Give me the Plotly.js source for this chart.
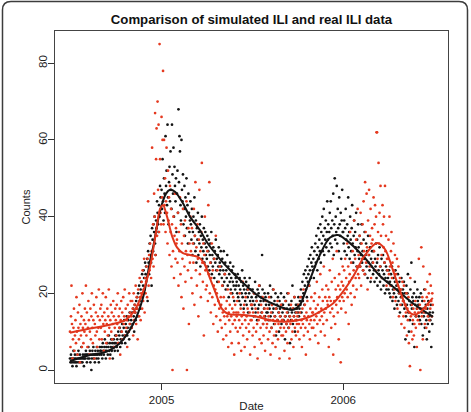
<!DOCTYPE html>
<html>
<head>
<meta charset="utf-8">
<script src="https://cdn.plot.ly/plotly-3.0.1.min.js"></script>
<style>html,body{margin:0;padding:0;background:#fff;}#chart{width:471px;height:412px;}</style>
</head>
<body>
<div id="chart"></div>
<script>
// Months covered by the daily series (one value per day of each month)
const months = ['2004-07','2004-08','2004-09','2004-10','2004-11','2004-12',
  '2005-01','2005-02','2005-03','2005-04','2005-05','2005-06','2005-07','2005-08','2005-09','2005-10','2005-11','2005-12',
  '2006-01','2006-02','2006-03','2006-04','2006-05','2006-06'];

// Simulated ILI daily counts (black points)
const simCounts = [
  [3,2,4,3,2,1,3,5,2,3,4,2,3,1,2,4,3,5,2,3,4,3,2,6,3,2,4,3,1,3,4],
  [3,5,4,2,4,3,6,4,3,5,2,4,0,3,5,4,6,3,4,2,5,4,3,6,4,5,3,2,4,6,5],
  [5,4,6,3,7,5,4,6,8,5,3,6,5,7,4,6,9,5,7,4,6,8,5,7,3,6,8,7,5,9],
  [7,9,6,8,5,10,7,9,11,6,8,10,7,12,9,8,11,13,9,7,12,10,14,9,11,13,10,8,15,12,11],
  [13,11,15,12,16,14,10,17,15,13,18,16,19,14,20,17,22,18,16,21,23,19,25,20,22,26,24,21,28,25],
  [27,24,29,18,31,28,25,33,30,35,28,22,37,34,31,38,36,40,33,30,39,37,44,41,38,36,43,40,48,45,42],
  [47,42,55,44,39,50,46,41,61,48,52,43,64,45,38,49,53,44,57,47,42,64,51,46,58,40,53,48,44,50,36],
  [46,52,41,68,49,61,57,43,39,60,47,44,51,38,42,48,35,45,40,50,37,43,33,46,41,36,39,44],
  [38,34,42,30,36,40,33,45,35,31,39,28,37,34,41,30,36,33,38,27,35,32,40,29,34,31,37,28,33,36,30],
  [32,29,35,27,31,34,26,30,33,28,36,25,30,27,32,29,24,31,28,34,26,29,23,30,27,32,25,28,26,31],
  [27,24,29,22,26,31,23,25,28,21,26,24,30,22,27,19,25,23,28,21,24,26,20,23,27,22,18,25,21,24,22],
  [23,20,25,19,22,18,24,21,17,23,20,26,19,22,16,21,24,18,20,23,17,21,19,15,22,20,24,18,21,17],
  [19,16,21,18,14,20,17,23,15,19,18,13,21,16,20,17,22,14,18,19,15,30,21,12,18,16,20,14,19,17,15],
  [18,15,20,13,17,16,22,14,19,11,17,15,21,16,12,18,14,20,9,16,17,13,19,15,10,18,16,14,20,12,17],
  [15,17,13,19,16,8,14,18,12,16,20,15,11,17,14,7,16,13,18,15,22,12,16,14,19,10,15,17,13,16],
  [17,15,19,14,16,18,17,21,15,19,23,18,20,25,17,22,26,21,24,19,27,23,25,29,22,26,30,24,28,32,27],
  [26,29,24,31,27,33,28,35,30,26,32,37,29,34,31,38,28,36,33,40,31,35,42,30,37,34,39,32,36,44],
  [34,38,31,36,41,33,44,37,32,39,35,46,30,38,50,34,40,36,48,33,42,37,31,45,38,35,41,29,39,47,36],
  [36,33,39,31,37,42,34,30,38,35,45,32,36,29,40,34,31,37,43,33,28,35,39,30,36,32,41,27,34,31,38],
  [32,29,35,27,33,30,38,28,31,26,34,29,36,25,30,33,27,31,24,35,28,30,26,32,23,29,27,31],
  [28,25,31,26,23,29,27,33,24,28,22,30,26,25,32,23,27,21,29,24,26,30,22,25,28,20,24,27,21,26,23],
  [24,21,26,20,23,19,25,22,27,18,21,24,20,16,23,26,19,22,17,21,25,18,20,23,15,21,19,24,17,20],
  [21,18,23,16,20,8,14,22,17,20,25,15,10,18,13,21,17,28,16,19,12,18,20,6,23,17,14,19,16,21,18],
  [17,14,19,13,16,20,12,15,18,9,16,14,21,11,15,17,13,8,16,12,18,14,10,15,13,17,6,14,12,15]
];

// Real ILI daily counts (red points)
const realCounts = [
  [10,6,14,22,12,3,8,11,16,5,9,13,7,19,10,4,15,11,8,17,2,12,9,14,6,20,11,7,13,10,16],
  [12,22,9,15,6,11,18,13,4,10,16,8,14,20,11,7,13,17,3,12,9,15,19,10,6,14,11,21,8,13,16],
  [11,17,8,14,20,12,5,15,10,13,19,7,12,16,9,14,21,11,3,13,17,10,15,8,12,18,14,6,11,16],
  [13,9,17,12,20,7,14,11,16,4,13,18,10,15,8,19,12,14,21,9,16,11,13,6,17,14,10,20,12,15,18],
  [14,11,18,16,9,20,13,17,15,22,12,19,16,8,21,17,14,24,19,13,20,23,16,26,18,21,29,15,24,20],
  [23,27,19,29,44,22,30,26,33,28,24,31,58,29,38,27,46,40,67,30,55,63,35,70,47,64,36,85,55,41,38],
  [66,45,60,78,38,60,43,50,36,44,58,41,33,52,39,45,30,48,36,42,27,38,0,31,40,24,35,46,29,37,33],
  [34,28,41,22,36,31,45,25,38,19,33,29,42,16,35,27,39,23,31,44,0,30,26,37,12,33,28,40],
  [31,24,37,20,33,28,42,17,35,49,26,32,22,38,29,14,34,47,25,31,19,36,54,28,23,33,9,30,40,26,21],
  [27,22,31,18,43,25,49,20,28,15,24,33,19,26,12,22,29,17,21,35,14,20,26,10,18,23,16,27,13,19],
  [17,11,22,15,8,19,14,25,12,16,9,18,14,21,6,15,13,17,10,20,14,7,16,12,19,15,4,13,17,11,15],
  [14,18,10,15,7,13,20,11,16,5,14,12,23,9,15,17,6,13,19,11,14,8,16,21,12,10,15,4,13,17],
  [13,17,9,15,11,20,6,14,16,10,18,12,3,15,13,22,8,14,11,17,7,15,19,12,9,14,16,5,13,18,11],
  [12,16,8,14,19,10,13,4,15,11,17,7,13,21,9,14,12,6,16,10,13,18,8,12,15,3,14,11,17,9,13],
  [13,9,16,11,5,14,18,10,12,15,7,13,20,11,3,14,12,17,8,13,10,16,6,14,19,11,13,9,15,12],
  [14,10,17,12,8,15,19,11,13,6,16,12,21,9,14,17,11,4,15,13,18,10,14,22,12,8,16,13,19,11,15],
  [15,11,18,13,20,9,16,14,23,12,17,7,15,19,13,25,10,16,14,21,18,12,27,15,9,19,16,22,13,18],
  [17,21,6,19,26,15,18,11,23,16,29,4,14,18,24,12,21,17,31,19,15,22,8,25,18,21,2,16,23,19,27],
  [22,18,26,20,29,15,24,21,33,19,27,12,23,25,36,20,28,17,24,31,22,26,39,19,29,24,34,21,27,42,25],
  [30,24,35,27,41,22,33,29,38,26,44,31,25,49,36,28,46,32,21,39,30,47,27,35,42,24,33,37],
  [34,28,45,31,38,43,26,40,62,62,29,36,54,33,41,27,48,35,30,24,43,38,32,40,28,48,31,35,22,29,26],
  [29,34,25,40,27,22,31,36,24,28,19,33,26,21,30,18,25,23,29,16,22,27,14,20,24,17,21,12,19,23],
  [18,14,22,11,17,17,15,20,9,16,13,19,7,15,1,24,14,10,17,8,13,16,9,12,15,18,11,14,6,16,13],
  [15,29,12,17,0,16,32,14,19,8,27,15,18,12,21,16,11,19,23,14,17,20,13,25,16,22,18,14,20,17]
];

// Smoothed curves
const simSmoothDates = ['2004-07-01','2004-08-10','2004-09-13','2004-10-09','2004-11-05','2004-11-25','2004-12-09','2004-12-15','2004-12-29','2005-01-10','2005-01-18','2005-01-28','2005-02-13','2005-02-27','2005-03-19','2005-04-04','2005-04-28','2005-05-19','2005-06-24','2005-07-18','2005-08-27','2005-09-22','2005-10-06','2005-10-16','2005-10-26','2005-11-15','2005-12-05','2005-12-21','2006-01-06','2006-02-11','2006-03-16','2006-04-19','2006-05-25','2006-06-30'];
const simSmooth = [2.3,3.9,4.8,7,12,19,28.5,32,41.5,46,47,46.5,43.5,40,36.5,33,29,26,21.5,19,16.5,15.7,17,20,23.5,30,34.5,35.2,34,29.6,24.5,20.9,17,13.9];

const realSmoothDates = ['2004-07-01','2004-08-10','2004-09-19','2004-10-20','2004-11-05','2004-11-19','2004-11-29','2004-12-09','2004-12-21','2004-12-29','2005-01-04','2005-01-12','2005-01-22','2005-02-01','2005-02-13','2005-02-27','2005-03-15','2005-03-27','2005-04-08','2005-04-20','2005-05-02','2005-05-15','2005-06-08','2005-07-08','2005-08-07','2005-09-02','2005-10-02','2005-10-26','2005-11-19','2005-12-12','2006-01-01','2006-01-21','2006-02-14','2006-03-10','2006-03-26','2006-04-11','2006-04-27','2006-05-11','2006-05-21','2006-06-04','2006-06-18','2006-06-30'];
const realSmooth = [9.7,10.8,11.8,13,15,18.5,22,27,36,42,43,40,35,32,30.5,30,29.5,28,24,20,16,14.6,14.4,14,13,12.6,13,13.9,15.5,17.4,20.5,24.4,30,33.1,31.5,26,20,15.5,14.5,15,17,18.8];

const xTickVals = ['2005-01-01','2006-01-01'];
const xTickText = ['2005','2006'];
const yTickVals = [0,20,40,60,80];

function expand(series){
  const xs=[], ys=[];
  series.forEach((arr,mi)=>{
    arr.forEach((v,di)=>{
      xs.push(months[mi]+'-'+String(di+1).padStart(2,'0'));
      ys.push(v);
    });
  });
  return {xs,ys};
}
const sim = expand(simCounts);
const real = expand(realCounts);

const RED = '#e5391f';
const traces = [
  {x:sim.xs, y:sim.ys, type:'scatter', mode:'markers', name:'Simulated ILI',
   marker:{color:'#141414', size:2.7}},
  {x:real.xs, y:real.ys, type:'scatter', mode:'markers', name:'Real ILI',
   marker:{color:RED, size:2.7}},
  {x:simSmoothDates, y:simSmooth, type:'scatter', mode:'lines', name:'Simulated (smoothed)',
   line:{color:'#141414', width:2, shape:'spline', smoothing:0.9}},
  {x:realSmoothDates, y:realSmooth, type:'scatter', mode:'lines', name:'Real (smoothed)',
   line:{color:'#e0351c', width:2, shape:'spline', smoothing:0.9}}
];

// Plot-area pixel geometry
const L=55, R=23, T=31, B=29, W=471, H=412;
const PW=W-L-R, PH=H-T-B;
const px=v=>((v-L)/PW).toFixed(4);
const py=v=>((H-B-v)/PH).toFixed(4);
const borderPath = `M ${px(2.5)},${py(440)} L ${px(2.5)},${py(10)} Q ${px(2.5)},${py(1.5)} ${px(11)},${py(1.5)} L ${px(459)},${py(1.5)} Q ${px(467.5)},${py(1.5)} ${px(467.5)},${py(10)} L ${px(467.5)},${py(440)}`;

const layout = {
  width:W, height:H,
  margin:{l:L, r:R, t:T, b:B, pad:0},
  paper_bgcolor:'#ffffff', plot_bgcolor:'#ffffff',
  showlegend:false,
  font:{family:'Liberation Sans, Arial, Helvetica, sans-serif', size:11, color:'#222'},
  title:{text:'<b>Comparison of simulated ILI and real ILI data</b>',
    font:{size:13.2, color:'#111', family:'Liberation Sans, Arial, sans-serif'},
    x:0.5, xref:'paper', xanchor:'center', y:1-19.5/H, yref:'container', yanchor:'middle'},
  xaxis:{type:'date', range:['2004-05-31 21:36','2006-07-30 14:00'],
    tickvals:xTickVals, ticktext:xTickText, ticks:'outside', ticklen:6, tickwidth:1, tickcolor:'#333',
    showline:true, linecolor:'#444', linewidth:1, mirror:true, showgrid:false, zeroline:false,
    tickfont:{size:11.5, color:'#222'}, automargin:false,
    title:{text:'Date', font:{size:11.5, color:'#222'}, standoff:9}},
  yaxis:{range:[-3.39,88.42], tickvals:yTickVals, tickangle:-90, ticklabelstandoff:-4,
    ticks:'outside', ticklen:6, tickwidth:1, tickcolor:'#333',
    showline:true, linecolor:'#444', linewidth:1, mirror:true, showgrid:false, zeroline:false,
    tickfont:{size:11.5, color:'#222'}, automargin:false,
    title:{text:'Counts', font:{size:11, color:'#222'}, standoff:4}},
  shapes:[{type:'path', xref:'paper', yref:'paper', path:borderPath,
    line:{color:'#3c3c3c', width:1.5}, fillcolor:'rgba(0,0,0,0)', layer:'above'}]
};

Plotly.newPlot('chart', traces, layout, {staticPlot:true, displayModeBar:false});
</script>
</body>
</html>
